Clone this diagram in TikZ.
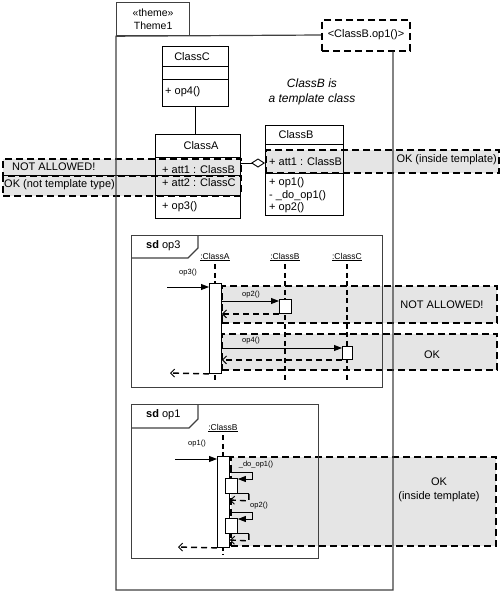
\documentclass[tikz,border=0pt]{standalone}
\usepackage{fontspec}
\setmainfont{Liberation Sans}
\usetikzlibrary{arrows.meta,calc}
\begin{document}
\begin{tikzpicture}[x=1pt,y=-1pt,
  hl/.style={draw=black, fill=black!10, line width=2pt, dash pattern=on 7pt off 4pt, inner sep=0pt, anchor=north west},
  notebox/.style={draw=black, fill=white, line width=2pt, dash pattern=on 7pt off 4pt, inner sep=0pt},
  frm/.style={draw=black!75, line width=1.2pt},
  cls/.style={draw=black, line width=0.9pt},
  boxn/.style={cls, anchor=north west, inner sep=0pt},
  txt/.style={font=\fontsize{11}{13}\selectfont, inner sep=0pt},
  msgf/.style={font=\fontsize{7.5}{9}\selectfont, inner sep=0pt},
  lnf/.style={font=\fontsize{8.5}{9}\selectfont, inner sep=0pt},
  life/.style={draw=black, line width=1.5pt, dash pattern=on 5pt off 3.5pt},
  msg/.style={draw=black, line width=0.9pt, -{Triangle[length=8pt,width=6pt]}},
  ret/.style={draw=black, line width=1.4pt, dash pattern=on 6pt off 4pt, -{Straight Barb[length=4pt,width=8pt,line width=0.9pt]}},
  act/.style={draw=black, fill=white, line width=0.9pt, anchor=north west, inner sep=0pt}
]
\useasboundingbox (0,0) rectangle (500,595);

% ---------- highlight boxes ----------
\node[hl, minimum width=238pt, minimum height=17pt] (h1) at (2,158) {};
\node[hl, minimum width=238pt, minimum height=20pt] (h2) at (2,175) {};
\node[hl, minimum width=233pt, minimum height=23pt] (h3) at (265,149) {};
\node[hl, minimum width=275pt, minimum height=37pt] (h4) at (221,285) {};
\node[hl, minimum width=275pt, minimum height=36pt] (h5) at (221,333) {};
\node[hl, minimum width=265pt, minimum height=89pt] (h6) at (230,456) {};
\node[txt, anchor=west] (h1t) at (12,167) {NOT ALLOWED!};
\node[txt, anchor=west] (h2t) at (4,185) {OK (not template type)};
\node[txt, anchor=east] (h3t) at (497,160) {OK (inside template)};
\node[txt] (h4t) at (442,305) {NOT ALLOWED!};
\node[txt] (h5t) at (432,355) {OK};
\node[txt, align=center, font=\fontsize{11}{14}\selectfont] (h6t) at (439,490) {OK\\(inside template)};

% ---------- theme package ----------
\node[frm, fill=white, anchor=north west, minimum width=73pt, minimum height=33pt, inner sep=0pt, align=center, font=\fontsize{10.5}{13}\selectfont] (tab) at (116,2) {«theme»\\Theme1};
\node[notebox, minimum width=88pt, minimum height=31pt, txt] (note) at (366,35) {<ClassB.op1()>};
\draw[frm] (note.west) -- (tab.south west) -- (116,590) -- (393,590) -- (note.south -| 393,0);

% ---------- classes ----------
\node[boxn, minimum width=66pt, minimum height=60pt] (classC) at (162,46) {};
\draw[cls] ($(classC.north west)+(0,20)$) -- ($(classC.north east)+(0,20)$);
\draw[cls] ($(classC.north west)+(0,33)$) -- ($(classC.north east)+(0,33)$);
\node[txt] (classCn) at (192,57) {ClassC};
\node[txt, anchor=west] (classCo) at (165,92) {+ op4()};

\node[boxn, minimum width=85pt, minimum height=84pt] (classA) at (155,134) {};
\draw[cls] ($(classA.north west)+(0,23)$) -- ($(classA.north east)+(0,23)$);
\draw[cls] ($(classA.north west)+(0,61)$) -- ($(classA.north east)+(0,61)$);
\node[txt] (classAn) at (201,146) {ClassA};
\node[txt, anchor=west] (classAa1) at (162,170) {+ att1 : ClassB};
\node[txt, anchor=west] (classAa2) at (162,183) {+ att2 : ClassC};
\node[txt, anchor=west] (classAo) at (162,207) {+ op3()};

\node[boxn, minimum width=78pt, minimum height=90pt] (classB) at (265,125) {};
\draw[cls] ($(classB.north west)+(0,19)$) -- ($(classB.north east)+(0,19)$);
\draw[cls] ($(classB.north west)+(0,48)$) -- ($(classB.north east)+(0,48)$);
\node[txt] (classBn) at (296,135) {ClassB};
\node[txt, anchor=west] (classBa1) at (269,162) {+ att1 : ClassB};
\node[txt, anchor=west] (classBo1) at (269,183) {+ op1()};
\node[txt, anchor=west] (classBo2) at (269,196) {- \_do\_op1()};
\node[txt, anchor=west] (classBo3) at (269,208) {+ op2()};

\node[font=\fontsize{12}{15}\selectfont\itshape, align=center, inner sep=0pt] (tmpl) at (312,92) {ClassB is\\a template class};

\draw[cls] (classC.south) -- (classC.south |- classA.north);
\draw[cls, -{Diamond[open, length=14pt, width=9pt, line width=0.9pt]}] ($(classA.north east)+(0,29)$) -- ($(classB.north west)+(0,38)$);

% ---------- sd op3 ----------
\node[frm, anchor=north west, minimum width=251pt, minimum height=152pt, inner sep=0pt] (sd3) at (131,235) {};
\draw[frm] ($(sd3.north west)+(0,23)$) -- ++(57,0) -- ++(10,-10) -- ($(sd3.north west)+(67,0)$);
\node[txt, anchor=west] (sd3t) at (146,246) {\textbf{sd} op3};
\node[lnf] (la) at (215,257) {\underline{:ClassA}};
\node[lnf] (lb) at (285,257) {\underline{:ClassB}};
\node[lnf] (lc) at (347,257) {\underline{:ClassC}};
\draw[life] ([yshift=-3pt]la.south) -- (la.south |- 0,382);
\draw[life] ([yshift=-3pt]lb.south) -- (lb.south |- 0,382);
\draw[life] ([yshift=-3pt]lc.south) -- (lc.south |- 0,382);
\node[act, minimum width=12pt, minimum height=90pt] (ba) at (209,283) {};
\node[act, minimum width=12pt, minimum height=14pt] (bb) at (279,299) {};
\node[act, minimum width=10pt, minimum height=13pt] (bc) at (342,346) {};
\coordinate (in3) at (167,287);
\draw[msg] (in3) -- (in3 -| ba.west);
\node[msgf] (m3) at (188,273) {op3()};
\draw[msg] (ba.east |- 0,301) -- (bb.west |- 0,301);
\node[msgf] (m2) at (251,295) {op2()};
\draw[ret] (bb.south west) -- (bb.south west -| ba.east);
\draw[msg] (ba.east |- 0,348) -- (bc.west |- 0,348);
\node[msgf] (m4) at (251,341) {op4()};
\draw[ret] (bc.south west) -- (bc.south west -| ba.east);
\coordinate (out3) at (170,373);
\draw[ret] (ba.south west) -- (out3);

% ---------- sd op1 ----------
\node[frm, anchor=north west, minimum width=187pt, minimum height=154pt, inner sep=0pt] (sd1) at (131,404) {};
\draw[frm] ($(sd1.north west)+(0,24)$) -- ++(58,0) -- ++(9,-9) -- ($(sd1.north west)+(67,0)$);
\node[txt, anchor=west] (sd1t) at (146,415) {\textbf{sd} op1};
\node[lnf] (lb1) at (223,428) {\underline{:ClassB}};
\draw[life] ([yshift=-3pt]lb1.south) -- (lb1.south |- 0,555);
\node[act, minimum width=12pt, minimum height=91pt] (b1) at (217,456) {};
\node[act, minimum width=12pt, minimum height=15pt] (nb1) at (225,478) {};
\node[act, minimum width=12pt, minimum height=15pt] (nb2) at (225,518) {};
\coordinate (in1) at (175,459);
\draw[msg] (in1) -- (in1 -| b1.west);
\node[msgf] (m1) at (197,444) {op1()};
\draw[msg] (b1.east |- 0,472) -- ++(23,0) -- ++(0,7) -- (nb1.east |- 0,479);
\node[msgf] (md) at (256,465) {\_do\_op1()};
\draw[cls] (nb1.south east) -- ++(11,0) coordinate (r1);
\draw[ret] (r1) -- ++(0,7) -- (b1.east |- 0,500);
\draw[msg] (b1.east |- 0,512) -- ++(23,0) -- ++(0,7) -- (nb2.east |- 0,519);
\node[msgf] (mo2) at (259,506) {op2()};
\draw[cls] (nb2.south east) -- ++(11,0) coordinate (r2);
\draw[ret] (r2) -- ++(0,7) -- (b1.east |- 0,540);
\coordinate (out1) at (178,547);
\draw[ret] (b1.south west) -- (out1);
\end{tikzpicture}
\end{document}
